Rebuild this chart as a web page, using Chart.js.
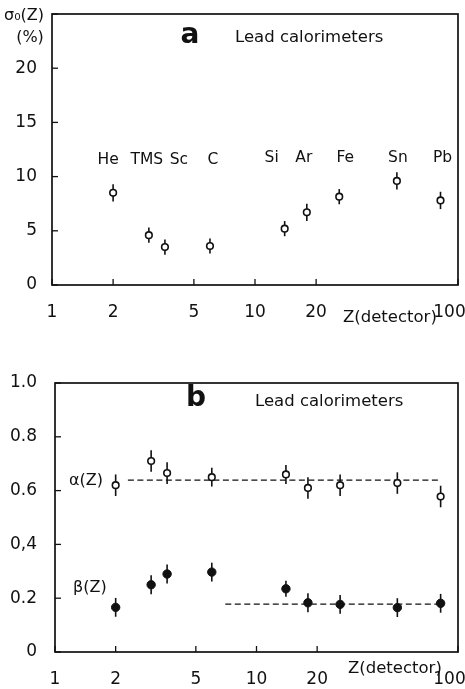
<!DOCTYPE html>
<html>
<head>
<meta charset="utf-8">
<script src="https://cdn.jsdelivr.net/npm/chart.js@4.4.0/dist/chart.umd.min.js"></script>
<style>
  html, body { margin: 0; padding: 0; background: #fff; }
  #wrap { position: relative; width: 465px; height: 689px; overflow: hidden; }
  canvas { position: absolute; left: 0; }
  #chartA { top: 0; }
  #chartB { top: 330px; }
</style>
</head>
<body>
<div id="wrap">
  <canvas id="chartA" width="465" height="330"></canvas>
  <canvas id="chartB" width="465" height="359"></canvas>
</div>
<script>
// data
const zTicks = [1, 2, 5, 10, 20, 100];
const elements = ['He', 'TMS', 'Sc', 'C', 'Si', 'Ar', 'Fe', 'Sn', 'Pb'];
const zDetector = [2, 3, 3.6, 6, 14, 18, 26, 50, 82];

// panel a : sigma0(Z) in %
const sigma0 = [8.5, 4.6, 3.5, 3.6, 5.2, 6.7, 8.15, 9.6, 7.8];
const sigma0Err = [0.8, 0.7, 0.7, 0.7, 0.7, 0.8, 0.7, 0.8, 0.8];
const sigmaTicks = [0, 5, 10, 15, 20, 25];
const sigmaTickLabels = ['0', '5', '10', '15', '20', ''];

// panel b : alpha(Z), beta(Z)
const alphaVals = [0.62, 0.71, 0.665, 0.65, 0.66, 0.61, 0.62, 0.628, 0.578];
const alphaErr = [0.04, 0.04, 0.04, 0.035, 0.035, 0.04, 0.04, 0.04, 0.04];
const betaVals = [0.166, 0.25, 0.29, 0.297, 0.235, 0.183, 0.177, 0.165, 0.181];
const betaErr = [0.035, 0.035, 0.035, 0.035, 0.03, 0.035, 0.035, 0.035, 0.035];
const alphaFit = [[2.3, 0.639], [82, 0.639]];
const betaFit = [[7, 0.178], [82, 0.178]];
const abTicks = [0, 0.2, 0.4, 0.6, 0.8, 1.0];
const abTickLabels = ['0', '0.2', '0,4', '0.6', '0.8', '1.0'];

const FONT = "'DejaVu Sans', sans-serif";
const INK = '#111';

// element name offsets from their point (px), as lettered in the figure
const nameDx = { He: -5, TMS: -2, Sc: 14, C: 3, Si: -13, Ar: -3, Fe: 6, Sn: 1, Pb: 2 };

let chartA, chartB;

// frame, inward tick marks, error bars, lettering
function paperPlugin(texts, names) {
  return {
    id: 'paper',
    beforeDatasetsDraw(chart) {
      const ctx = chart.ctx, xs = chart.scales.x, ys = chart.scales.y;
      ctx.save();
      ctx.strokeStyle = INK;
      ctx.lineWidth = 1.6;
      chart.data.datasets.forEach(ds => {
        if (!ds.errors) return;
        ds.data.forEach((p, i) => {
          const x = xs.getPixelForValue(p.x);
          ctx.beginPath();
          ctx.moveTo(x, ys.getPixelForValue(p.y - ds.errors[i]));
          ctx.lineTo(x, ys.getPixelForValue(p.y + ds.errors[i]));
          ctx.stroke();
        });
      });
      ctx.restore();
    },
    afterDraw(chart) {
      const ctx = chart.ctx, a = chart.chartArea;
      const xs = chart.scales.x, ys = chart.scales.y;
      ctx.save();
      ctx.strokeStyle = INK;
      ctx.lineWidth = 1.7;
      ctx.strokeRect(a.left, a.top, a.right - a.left, a.bottom - a.top);
      ctx.lineWidth = 1.3;
      xs.ticks.forEach(t => {
        const x = xs.getPixelForValue(t.value);
        ctx.beginPath(); ctx.moveTo(x, a.bottom); ctx.lineTo(x, a.bottom - 6); ctx.stroke();
      });
      ys.ticks.forEach(t => {
        const y = ys.getPixelForValue(t.value);
        ctx.beginPath(); ctx.moveTo(a.left, y); ctx.lineTo(a.left + 6, y); ctx.stroke();
      });

      ctx.fillStyle = INK;
      ctx.textBaseline = 'middle';
      texts.forEach(t => {
        ctx.font = t.font;
        ctx.textAlign = t.align || 'left';
        ctx.fillText(t.text, t.x, t.y);
      });

      if (names) {
        ctx.font = '15.5px ' + FONT;
        ctx.textAlign = 'center';
        elements.forEach((n, i) => {
          const x = xs.getPixelForValue(zDetector[i]) + nameDx[n];
          const y = ys.getPixelForValue(i < 4 ? 11.5 : 11.7);
          ctx.fillText(n, x, y);
        });
      }
      ctx.restore();
    }
  };
}

function xAxis(height) {
  return {
    type: 'logarithmic',
    min: 1, max: 100,
    grid: { display: false },
    border: { display: false },
    afterBuildTicks: s => { s.ticks = zTicks.map(v => ({ value: v })); },
    afterFit: s => { s.height = height; s.paddingLeft = 0; s.paddingRight = 0; },
    ticks: {
      autoSkip: false, maxRotation: 0, padding: 9, color: INK,
      font: { family: FONT, size: 17 },
      // last label sits at the page edge, pull it in a little
      callback: (v, i) => i === zTicks.length - 1 ? zTicks[i] + '\u2002\u2002' : String(zTicks[i])
    }
  };
}

function yAxis(width, ticks, labels, pad) {
  return {
    type: 'linear',
    min: ticks[0], max: ticks[ticks.length - 1],
    grid: { display: false },
    border: { display: false },
    afterBuildTicks: s => { s.ticks = ticks.map(v => ({ value: v })); },
    afterFit: s => { s.width = width; s.paddingTop = 0; s.paddingBottom = 0; },
    ticks: {
      padding: pad, color: INK,
      font: { family: FONT, size: 17 },
      callback: (v, i) => labels[i]
    }
  };
}

function baseOptions(padding, scales) {
  return {
    responsive: false,
    animation: false,
    layout: { padding },
    plugins: { legend: { display: false }, tooltip: { enabled: false } },
    scales
  };
}

function drawChartA() {
  const texts = [
    { text: 'σ₀(Z)', x: 4, y: 16, font: '16px ' + FONT },
    { text: '(%)', x: 30, y: 38, font: '16px ' + FONT, align: 'center' },
    { text: 'a', x: 190, y: 36, font: 'bold 28px ' + FONT, align: 'center' },
    { text: 'Lead calorimeters', x: 235, y: 38, font: '16.5px ' + FONT },
    { text: 'Z(detector)', x: 343, y: 318, font: '16.5px ' + FONT }
  ];
  chartA = new Chart(document.getElementById('chartA'), {
    type: 'scatter',
    data: {
      datasets: [{
        data: zDetector.map((z, i) => ({ x: z, y: sigma0[i] })),
        errors: sigma0Err,
        pointStyle: 'circle',
        pointRadius: 3.3,
        backgroundColor: '#fff',
        borderColor: INK,
        borderWidth: 1.6
      }]
    },
    options: baseOptions({ top: 14, right: 7, bottom: 0, left: 0 }, {
      x: xAxis(45),
      y: yAxis(52, sigmaTicks, sigmaTickLabels, 7)
    }),
    plugins: [paperPlugin(texts, true)]
  });
}

function drawChartB() {
  const texts = [
    { text: 'b', x: 196, y: 69, font: 'bold 28px ' + FONT, align: 'center' },
    { text: 'Lead calorimeters', x: 255, y: 72, font: '16.5px ' + FONT },
    { text: 'α(Z)', x: 69, y: 151, font: '16px ' + FONT },
    { text: 'β(Z)', x: 73, y: 258, font: '16px ' + FONT },
    { text: 'Z(detector)', x: 348, y: 339, font: '16.5px ' + FONT }
  ];
  const fitLine = pts => ({
    data: pts.map(p => ({ x: p[0], y: p[1] })),
    showLine: true,
    pointRadius: 0,
    borderColor: INK,
    borderWidth: 1.3,
    borderDash: [6, 3.5],
    order: 1
  });
  chartB = new Chart(document.getElementById('chartB'), {
    type: 'scatter',
    data: {
      datasets: [{
        data: zDetector.map((z, i) => ({ x: z, y: alphaVals[i] })),
        errors: alphaErr,
        pointStyle: 'circle',
        pointRadius: 3.3,
        backgroundColor: '#fff',
        borderColor: INK,
        borderWidth: 1.6,
        order: 0
      }, {
        data: zDetector.map((z, i) => ({ x: z, y: betaVals[i] })),
        errors: betaErr,
        pointStyle: 'circle',
        pointRadius: 4.2,
        backgroundColor: INK,
        borderColor: INK,
        borderWidth: 1,
        order: 0
      },
      fitLine(alphaFit),
      fitLine(betaFit)]
    },
    options: baseOptions({ top: 53, right: 7, bottom: 0, left: 0 }, {
      x: xAxis(37),
      y: yAxis(55, abTicks, abTickLabels, 10)
    }),
    plugins: [paperPlugin(texts, false)]
  });
}

drawChartA();
drawChartB();
</script>
</body>
</html>
